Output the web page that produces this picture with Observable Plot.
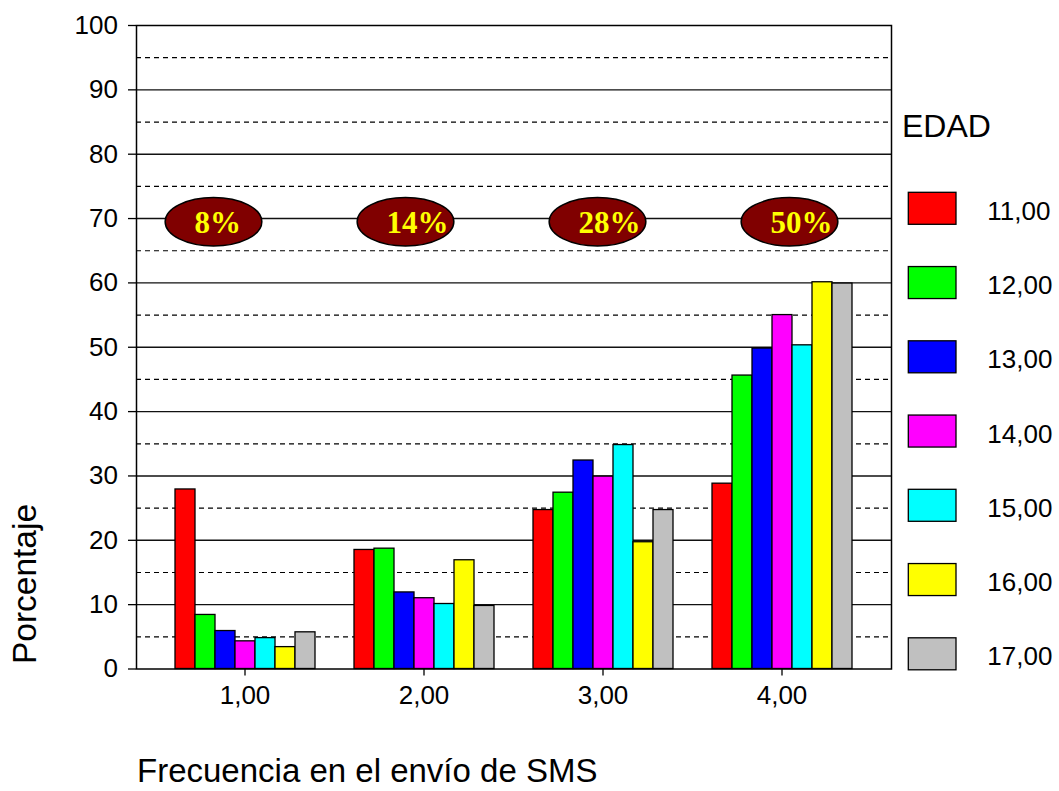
<!DOCTYPE html>
<html><head><meta charset="utf-8">
<script src="https://cdn.jsdelivr.net/npm/d3@7"></script>
<script src="https://cdn.jsdelivr.net/npm/@observablehq/plot@0.6"></script>
<style>
html,body{margin:0;padding:0;background:#fff;overflow:hidden}
#wrap{position:relative;width:1059px;height:791px;font-family:"Liberation Sans",Arial,sans-serif;color:#000}
#wrap > svg{position:absolute;left:0;top:0;margin:0}
</style></head><body><div id="wrap"></div>
<script>
// ---- data ----
const groups = ["1,00", "2,00", "3,00", "4,00"];               // Frecuencia en el envío de SMS
const ages = ["11,00", "12,00", "13,00", "14,00", "15,00", "16,00", "17,00"]; // EDAD
const colors = ["#FF0000", "#00FF00", "#0000FF", "#FF00FF", "#00FFFF", "#FFFF00", "#C0C0C0"];
const age11 = [27.9, 18.5, 24.7, 28.8];
const age12 = [8.4, 18.7, 27.4, 45.6];
const age13 = [5.9, 11.9, 32.4, 49.8];
const age14 = [4.3, 11.0, 29.9, 55.0];
const age15 = [4.8, 10.1, 34.8, 50.3];
const age16 = [3.4, 16.9, 19.7, 60.1];
const age17 = [5.7, 9.8, 24.7, 59.9];
const shares = ["8%", "14%", "28%", "50%"];
const shareLevel = 69.5;
const yTicks = [0, 10, 20, 30, 40, 50, 60, 70, 80, 90, 100];
const majorGrid = [10, 20, 30, 40, 50, 60, 70, 80, 90];
const minorGrid = [5, 15, 25, 35, 45, 55, 65, 75, 85, 95];

const series = [age11, age12, age13, age14, age15, age16, age17];
const barData = [];
series.forEach((vals, i) => vals.forEach((v, j) => barData.push({freq: groups[j], age: ages[i], value: v})));
const shareData = groups.map((g, i) => ({freq: g, pct: shares[i], level: shareLevel}));

// ---- layout ----
const W = 1059, H = 791, mL = 136, mR = 168, mT = 25, mB = 122.5;
const baseStyle = {background: "transparent", fontFamily: "Liberation Sans, Arial, sans-serif", fontSize: "26px", color: "#000", overflow: "visible"};

// ellipse symbol for the share badges
const ellipse = {
  draw(context, size) {
    const rx = Math.sqrt(size / Math.PI), ry = rx * 0.5, k = 0.5522847498;
    context.moveTo(rx, 0);
    context.bezierCurveTo(rx, ry * k, rx * k, ry, 0, ry);
    context.bezierCurveTo(-rx * k, ry, -rx, ry * k, -rx, 0);
    context.bezierCurveTo(-rx, -ry * k, -rx * k, -ry, 0, -ry);
    context.bezierCurveTo(rx * k, -ry, rx, -ry * k, rx, 0);
    context.closePath();
  }
};

const wrap = document.getElementById("wrap");

// background: grid, frame, y axis, badges
const plotA = Plot.plot({
  width: W, height: H, marginLeft: mL, marginRight: mR, marginTop: mT, marginBottom: mB,
  style: baseStyle,
  x: {type: "point", domain: groups, padding: 0.464, align: 0.43, axis: null},
  y: {domain: [0, 100], axis: null},
  marks: [
    Plot.ruleY(minorGrid, {stroke: "#000", strokeWidth: 1.2, strokeDasharray: "5,4"}),
    Plot.ruleY(majorGrid, {stroke: "#111", strokeWidth: 1.4}),
    Plot.frame({stroke: "#000", strokeWidth: 1.5}),
    Plot.axisY({ticks: yTicks, tickSize: 8, tickPadding: 10.5, label: null, stroke: "#000", strokeWidth: 1.3}),
    Plot.dot(shareData, {x: "freq", y: "level", r: 48.35, symbol: ellipse, fill: "#800000", stroke: "#000", strokeWidth: 1.5}),
    Plot.text(shareData, {x: "freq", y: "level", text: "pct", dx: -19, dy: 1.5, textAnchor: "start", fill: "#FFFF00",
      fontFamily: "Liberation Serif, Times New Roman, serif", fontWeight: "bold", fontSize: 31})
  ]
});
wrap.appendChild(plotA);

// foreground: grouped bars
const plotB = Plot.plot({
  width: W, height: H, marginLeft: mL, marginRight: mR, marginTop: mT, marginBottom: mB,
  facet: {marginTop: 0, marginBottom: 0, marginLeft: 0, marginRight: 0},
  style: baseStyle,
  fx: {domain: groups, paddingInner: 0.2, paddingOuter: 0.2, label: null},
  x: {domain: ages, padding: 0, axis: null},
  y: {domain: [0, 100], axis: null},
  color: {domain: ages, range: colors},
  marks: [
    Plot.barY(barData, {fx: "freq", x: "age", y: "value", fill: "age", stroke: "#000", strokeWidth: 1.3}),
    Plot.axisFx({anchor: "bottom", tickSize: 7, tickPadding: 10, label: null, stroke: "#000", strokeWidth: 1.3})
  ]
});
wrap.appendChild(plotB);

// titles and legend
const svg = d3.select(wrap).append("svg").attr("width", W).attr("height", H)
  .style("font-family", "Liberation Sans, Arial, sans-serif").style("pointer-events", "none");
svg.append("text").attr("transform", "translate(36,584) rotate(-90)").attr("text-anchor", "middle")
  .style("font-size", "33.5px").text("Porcentaje");
svg.append("text").attr("x", 137).attr("y", 782).style("font-size", "33px").text("Frecuencia en el envío de SMS");
svg.append("text").attr("x", 902).attr("y", 136.7).style("font-size", "32px").text("EDAD");
const lg = svg.append("g").selectAll("g").data(ages).join("g")
  .attr("transform", (d, i) => `translate(908.3,${192.3 + i * 74.25})`);
lg.append("rect").attr("width", 47.7).attr("height", 32).attr("fill", (d, i) => colors[i])
  .attr("stroke", "#000").attr("stroke-width", 1.3);
lg.append("text").attr("x", 79).attr("y", 27.7).style("font-size", "26px").text(d => d);
</script>
</body></html>
